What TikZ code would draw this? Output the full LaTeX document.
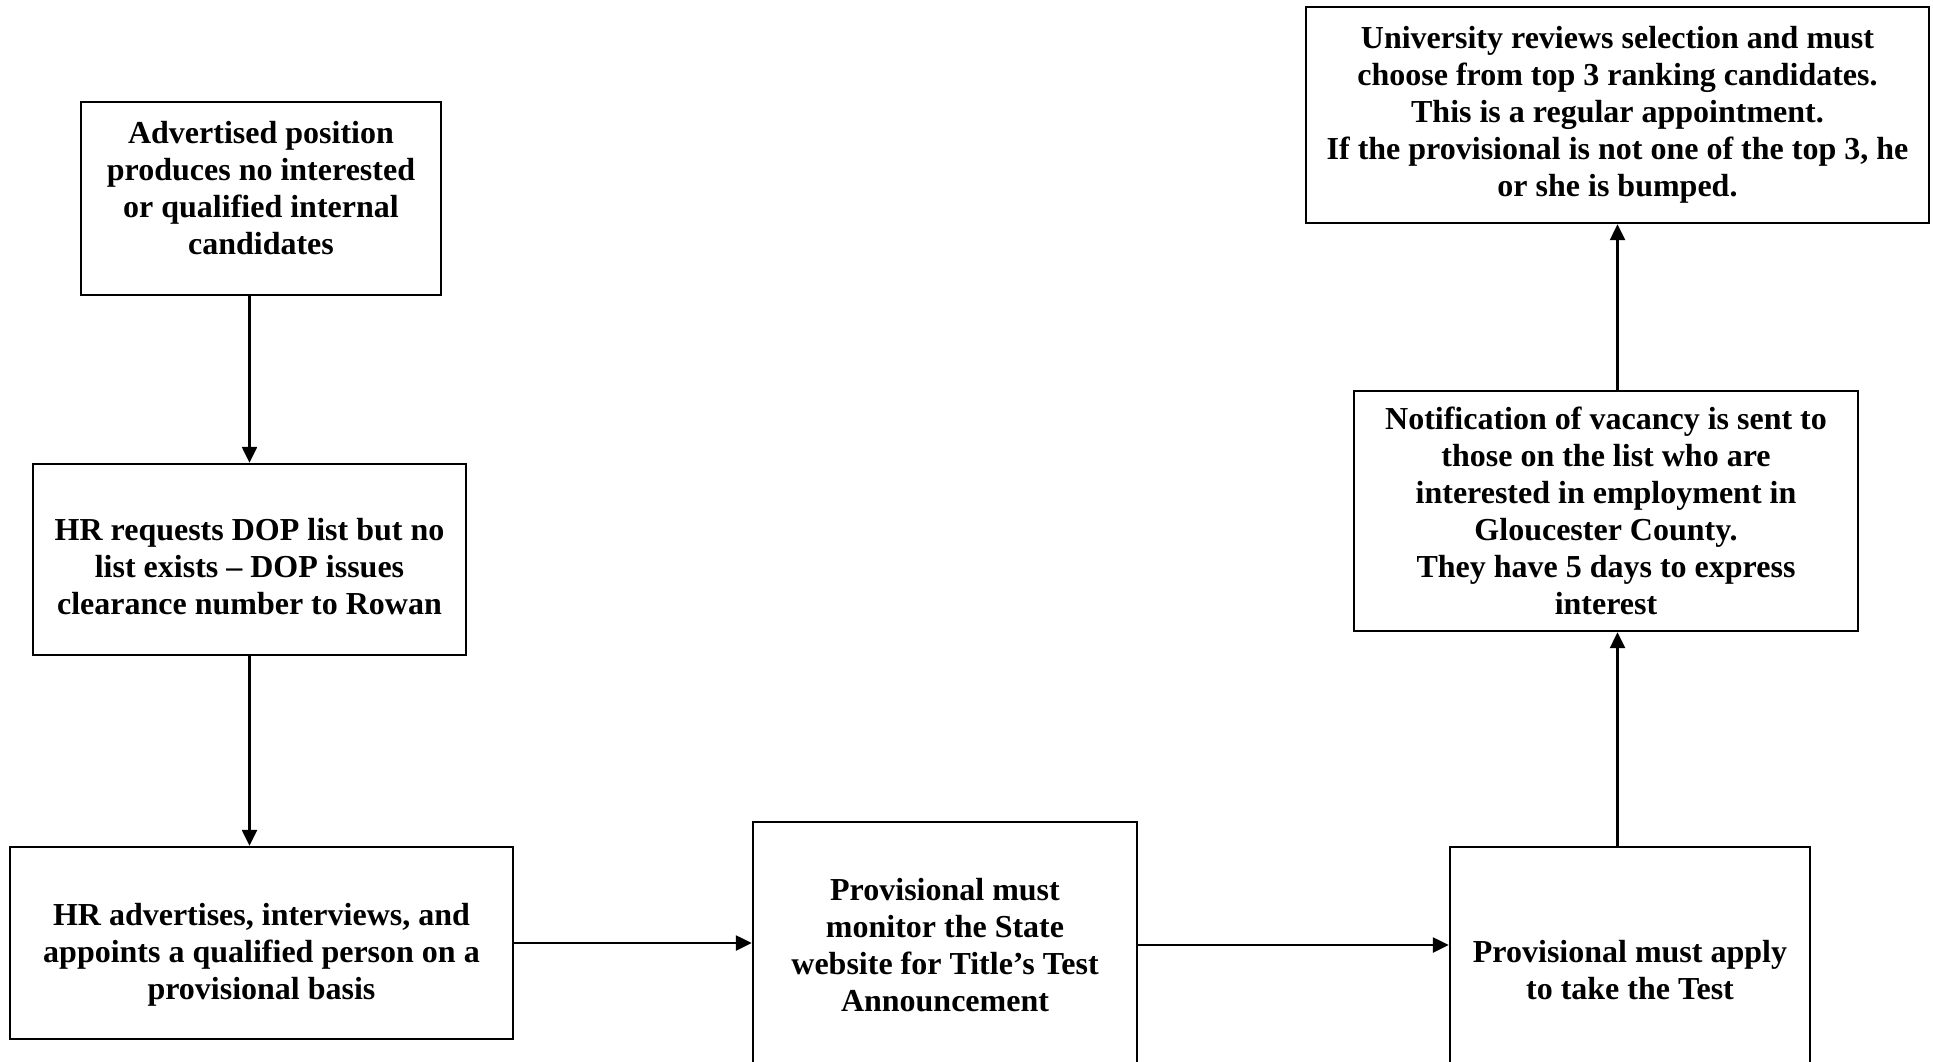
\documentclass[tikz,border=0pt]{standalone}
\usepackage{fontspec}
\setmainfont{Liberation Serif}
\usetikzlibrary{positioning,arrows.meta}
\tikzset{
  flowarrow/.style={-{Triangle[length=16pt, width=15pt]}, line width=2.4pt},
  boxtext/.style={align=center, inner sep=0pt, font=\fontsize{32}{37}\selectfont\bfseries},
  procbox/.style={draw, line width=2.4pt, boxtext}
}

\begin{document}
\begin{tikzpicture}[x=1pt, y=-1pt]
  \useasboundingbox (0,0) rectangle (1933,1061);
  \clip (0,0) rectangle (1933,1061);
  \node[procbox, minimum width=360, minimum height=193,
    label={[boxtext, yshift=10pt]center:{Advertised position\\produces no interested\\or qualified internal\\candidates}}] (adv) at (261,198.5) {};
  \node[procbox, minimum width=433, minimum height=191,
    label={[boxtext, yshift=-7pt]center:{HR requests DOP list but no\\list exists -- DOP issues\\clearance number to Rowan}}] (req) at (249.5,559.5) {};
  \node[procbox, minimum width=503, minimum height=192,
    label={[boxtext, yshift=-12pt]center:{HR advertises, interviews, and\\appoints a qualified person on a\\provisional basis}}] (hire) at (261.5,943) {};
  \node[procbox, minimum width=384, minimum height=246] (mon) at (945,945)
    {Provisional must\\monitor the State\\website for Title’s Test\\Announcement};
  \node[procbox, minimum width=360, minimum height=246] (apply) at (1630,970)
    {Provisional must apply\\to take the Test};
  \node[procbox, minimum width=504, minimum height=240] (notif) at (1606,511)
    {Notification of vacancy is sent to\\those on the list who are\\interested in employment in\\Gloucester County.\\They have 5 days to express\\interest};
  \node[procbox, minimum width=623, minimum height=216] (univ) at (1617.5,115)
    {University reviews selection and must\\choose from top 3 ranking candidates.\\This is a regular appointment.\\If the provisional is not one of the top 3, he\\or she is bumped.};
  \draw[flowarrow] (adv.south -| req.north) -- (req.north);
  \draw[flowarrow] (req.south) -- (hire.north -| req.south);
  \draw[flowarrow] (hire.east) -- (hire.east -| mon.west);
  \draw[flowarrow] (mon.east) -- (mon.east -| apply.west);
  \draw[flowarrow] (apply.north -| univ.south) -- (notif.south -| univ.south);
  \draw[flowarrow] (notif.north -| univ.south) -- (univ.south);
\end{tikzpicture}
\end{document}
